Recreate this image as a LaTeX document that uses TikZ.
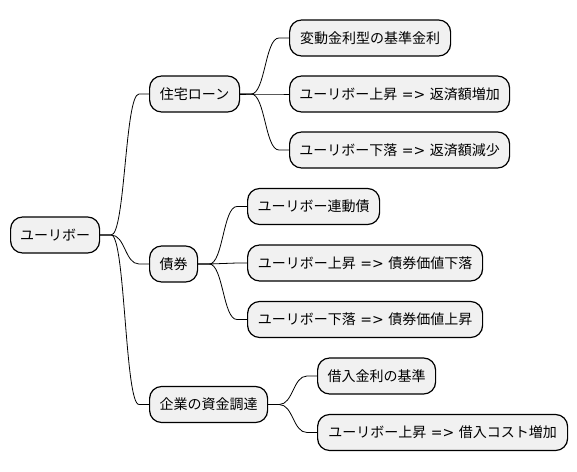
\documentclass[tikz,border=0pt]{standalone}
\usepackage{fontspec}
\setmainfont{Noto Sans CJK JP}
\newfontfamily\latinfont{DejaVu Sans}
\newcommand\yields{{\latinfont\ =>\ }}
\usetikzlibrary{calc}
\definecolor{boxfill}{HTML}{F1F1F1}
\newcommand\mmlink[2]{\draw[link] (#1.east) -- ($(#1.east)+(11,0)$) .. controls ($(#1.east)+(25,0)$) and ($(#2.west)+(-24,0)$) .. ($(#2.west)+(-10,0)$) -- (#2.west);}
\begin{document}
\begin{tikzpicture}[x=1pt,y=-1pt,
  box/.style={draw=black, line width=1.2pt, fill=boxfill, rounded corners=12pt,
    minimum height=36pt, inner sep=0pt, font=\fontsize{14}{17}\selectfont, anchor=west},
  link/.style={line width=0.8pt, black}]
\useasboundingbox (0,0) rectangle (577,471);
\node[box, minimum width=89pt] (root) at (10,235) {ユーリボー};
\node[box, minimum width=90pt] (a) at (149,94) {住宅ローン};
\node[box, minimum width=48pt] (b) at (149,264) {債券};
\node[box, minimum width=118pt] (c) at (149,404.5) {企業の資金調達};
\node[box, minimum width=161pt] (a1) at (289,38) {変動金利型の基準金利};
\node[box, minimum width=220pt] (a2) at (289,94) {ユーリボー上昇\yields 返済額増加};
\node[box, minimum width=220pt] (a3) at (289,150) {ユーリボー下落\yields 返済額減少};
\node[box, minimum width=132pt] (b1) at (247,206.5) {ユーリボー連動債};
\node[box, minimum width=235pt] (b2) at (247,263) {ユーリボー上昇\yields 債券価値下落};
\node[box, minimum width=235pt] (b3) at (247,319.5) {ユーリボー下落\yields 債券価値上昇};
\node[box, minimum width=118pt] (c1) at (317,376) {借入金利の基準};
\node[box, minimum width=250pt] (c2) at (317,432.5) {ユーリボー上昇\yields 借入コスト増加};
\mmlink{root}{a}
\mmlink{root}{b}
\mmlink{root}{c}
\mmlink{a}{a1}
\mmlink{a}{a2}
\mmlink{a}{a3}
\mmlink{b}{b1}
\mmlink{b}{b2}
\mmlink{b}{b3}
\mmlink{c}{c1}
\mmlink{c}{c2}
\end{tikzpicture}
\end{document}
